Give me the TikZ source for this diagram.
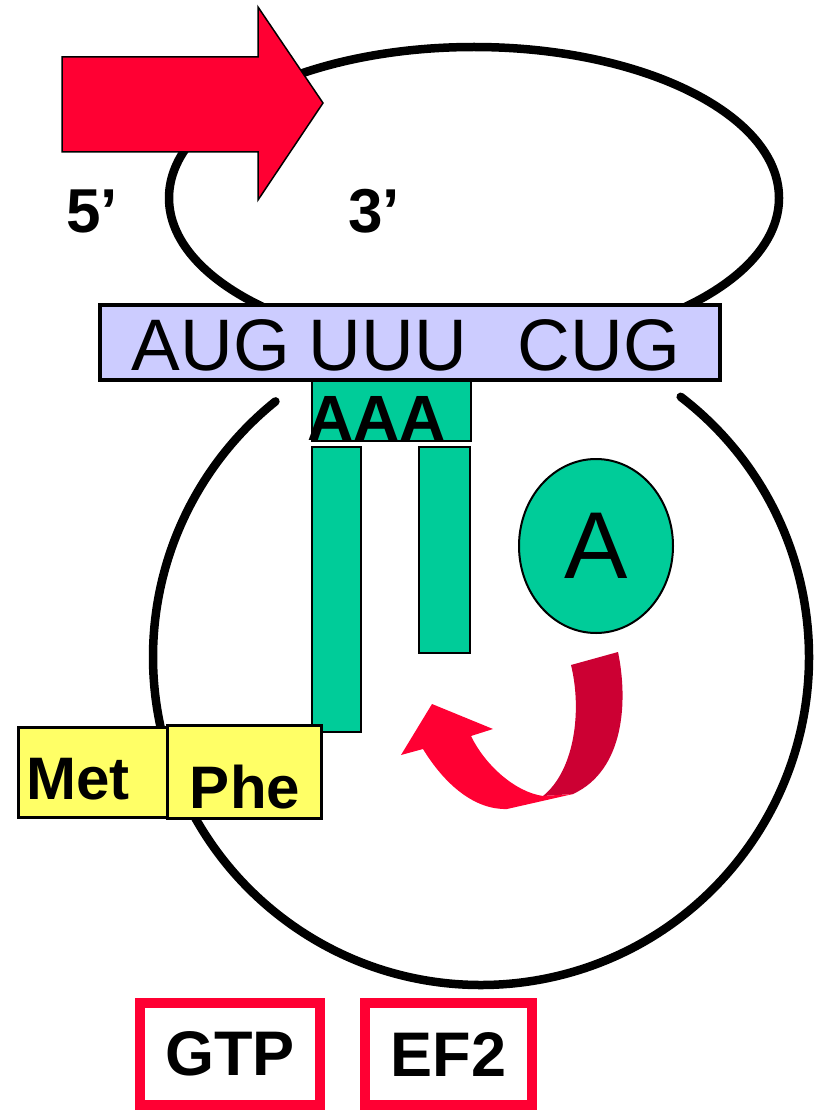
\documentclass[tikz,border=0pt]{standalone}
\usepackage{fontspec}
\setmainfont{Liberation Sans}
\usetikzlibrary{positioning, shapes.geometric}

\definecolor{trnagreen}{HTML}{00CC99}
\definecolor{mrnablue}{HTML}{CCCCFF}
\definecolor{aayellow}{HTML}{FFFF66}
\definecolor{arrowred}{HTML}{FF0033}
\definecolor{ribbondark}{HTML}{CC0033}

\begin{document}
\begin{tikzpicture}[x=1pt, y=-1pt,
    subunit/.style={line width=8.5pt, line cap=round},
    trna/.style={draw, line width=2.5pt, fill=trnagreen, inner sep=0pt},
    aminoacid/.style={draw, line width=3pt, fill=aayellow, inner sep=0pt},
    factor/.style={draw=arrowred, line width=10pt, fill=white, inner sep=0pt, font=\fontsize{63}{63}\selectfont\bfseries},
    codon/.style={inner sep=0pt, font=\fontsize{73}{73}\selectfont},
    boldtext/.style={inner sep=0pt, font=\fontsize{#1}{#1}\selectfont\bfseries}]

    \useasboundingbox (0,0) rectangle (814,1110);

    % Small subunit - its lower half hides under the mRNA
    \draw[subunit, fill=white] (474,198) ellipse [x radius=305, y radius=151];

    % Direction of reading - red block arrow
    \draw[fill=arrowred, line width=1.5pt] (62,57) -- (258,57) -- (258,7) -- (323,103)
        -- (258,200) -- (258,152) -- (62,152) -- cycle;

    % Ends of the message
    \node[boldtext=62, anchor=base] (five) at (92,232) {5’};
    \node[boldtext=62, anchor=base] (three) at (374,232) {3’};

    % Large subunit, open at the top
    \draw[subunit] (481,657) ++(-52.5:328) arc[start angle=-52.5, end angle=231.2, radius=328];

    % mRNA strip with its codons
    \node[draw, line width=4.5pt, fill=mrnablue, inner sep=0pt, minimum width=620, minimum height=75] (mrna) at (410,342.5) {};
    \foreach \cod/\cx in {AUG/211, UUU/388, CUG/599}
        \node[codon, anchor=base] (\cod) at (\cx,370) {\cod};

    % tRNA - anticodon head and two arms
    \node[trna, minimum width=159, minimum height=60] (anticodon) at (391.5,411) {};
    \node[boldtext=64, anchor=base west] (aaa) at (307,440) {AAA};
    \node[trna, minimum width=49, minimum height=285] (leftarm) at (336.5,589.5) {};
    \node[trna, minimum width=51, minimum height=206] (rightarm) at (444.5,550) {};

    % Empty A site
    \node[ellipse, draw, line width=2pt, fill=trnagreen, inner sep=0pt, minimum width=154, minimum height=174,
        font=\fontsize{95}{95}\selectfont] (asite) at (596,546) {A};

    % Peptide chain - Met then Phe
    \node[aminoacid, minimum width=149, minimum height=90] (met) at (92.5,772) {};
    \node[aminoacid, minimum width=154, minimum height=93] (phe) at (244.5,771.5) {};
    \node[boldtext=60, anchor=base] (mettext) at (78,799) {Met};
    \node[boldtext=60, anchor=base] (phetext) at (245,808) {Phe};

    % Twisted ribbon arrow for translocation
    \fill[ribbondark] (571,665) -- (618,652) .. controls (628,700) and (625,770) .. (573,794)
        -- (543,796) .. controls (575,770) and (582,710) .. (571,665) -- cycle;
    \fill[arrowred] (573,794) -- (507,809) .. controls (475,810) and (445,785) .. (423,749)
        -- (401,755) -- (432,704) -- (493,729) -- (471,736)
        .. controls (485,765) and (515,792) .. (543,796) -- cycle;

    % Factors
    \node[factor, minimum width=180, minimum height=102] (gtp) at (230,1054) {GTP};
    \node[factor, minimum width=167, minimum height=102] (ef2) at (448.5,1054) {EF2};

\end{tikzpicture}
\end{document}
